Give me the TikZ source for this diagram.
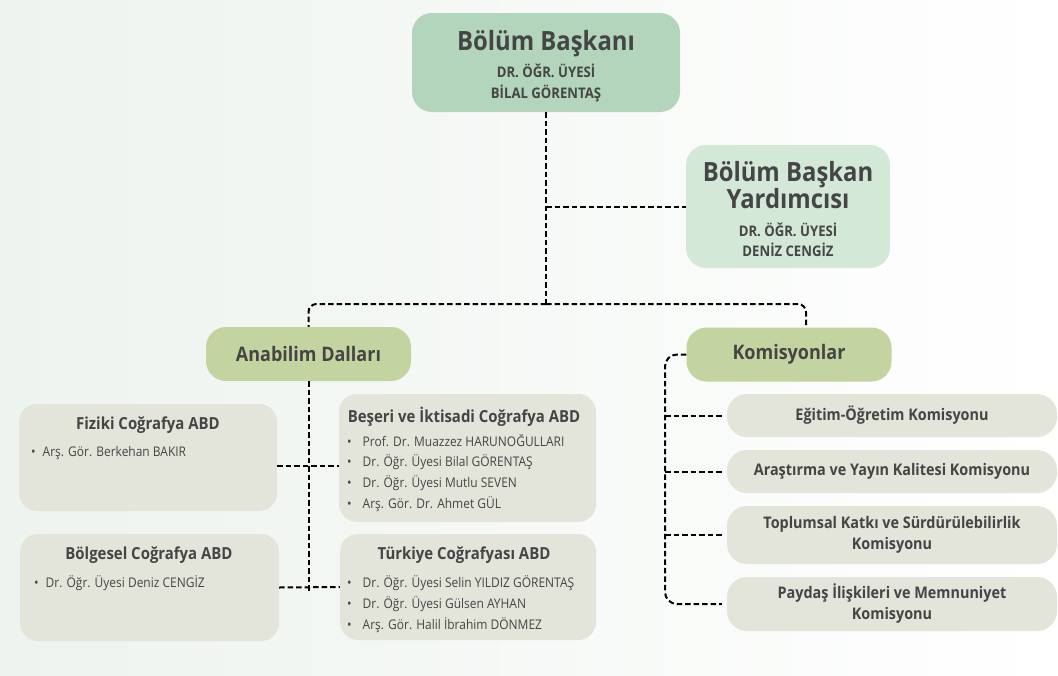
\documentclass[tikz,border=0pt]{standalone}
\usepackage{fontspec}
\setmainfont{Open Sans}[FakeStretch=0.9]
\usetikzlibrary{shapes}

\definecolor{ink}{HTML}{454545}
\definecolor{baskan}{HTML}{B2D5BB}
\definecolor{yardimci}{HTML}{D4E8D7}
\definecolor{grup}{HTML}{C3D4A0}
\definecolor{kutu}{HTML}{E3E4DA}
\definecolor{zemin}{HTML}{EDF3EE}

\begin{document}
\begin{tikzpicture}[x=1pt,y=-1pt]
	\tikzstyle{box} = [rounded corners=18pt, inner sep=0, text=ink]
	\tikzstyle{head} = [box, fill=baskan, rounded corners=20pt, minimum width=268pt, minimum height=99pt]
	\tikzstyle{deputy} = [box, fill=yardimci, rounded corners=20pt, minimum width=204pt, minimum height=123pt]
	\tikzstyle{group} = [box, fill=grup, rounded corners=20pt, minimum width=205pt, minimum height=54pt,
			font=\bfseries\fontsize{20}{24}\selectfont]
	\tikzstyle{unit} = [box, fill=kutu]
	\tikzstyle{komis} = [box, fill=kutu, rounded corners=20pt, minimum width=330pt, align=center,
			font=\bfseries\fontsize{16}{21}\selectfont]
	\tikzstyle{bigtitle} = [inner sep=0, text=ink, align=center, font=\bfseries\fontsize{26.5}{27}\selectfont]
	\tikzstyle{subtitle} = [inner sep=0, text=ink, align=center, font=\bfseries\fontsize{14.6}{20.5}\selectfont]
	\tikzstyle{abdtitle} = [inner sep=0, text=ink, font=\bfseries\fontsize{16.6}{18}\selectfont]
	\tikzstyle{item} = [inner sep=0, anchor=west, text=ink, font=\fontsize{13.3}{14}\selectfont]
	\tikzstyle{link} = [line width=2pt, dash pattern=on 5.5pt off 3pt]

	\shade[left color=zemin, right color=white] (0,0) rectangle (1058,675);

	% yonetim
	\node[head] (boss) at (546,62.5) {};
	\node[bigtitle] (bossT) at (546,44) {Bölüm Başkanı};
	\node[subtitle] (bossN) at (546,83) {DR. ÖĞR. ÜYESİ\\BİLAL GÖRENTAŞ};

	\node[deputy] (dep) at (788,206.5) {};
	\node[bigtitle] (depT) at (788,185.5) {Bölüm Başkan\\Yardımcısı};
	\node[subtitle] (depN) at (788,239.5) {DR. ÖĞR. ÜYESİ\\DENİZ CENGİZ};

	\node[group] (abd) at (308.5,354) {Anabilim Dalları};
	\node[group] (kom) at (789,354.5) {Komisyonlar};

	% anabilim dallari
	\node[unit, minimum width=258pt, minimum height=107pt] (fiz) at (148,457.5) {};
	\node[unit, minimum width=257pt, minimum height=128pt] (bes) at (467.5,458) {};
	\node[unit, minimum width=259pt, minimum height=107pt] (bol) at (149.5,587.5) {};
	\node[unit, minimum width=256pt, minimum height=106pt] (tur) at (468,587) {};

	\node[abdtitle] (fizT) at (148,425) {Fiziki Coğrafya ABD};
	\node[abdtitle] (besT) at (464,417) {Beşeri ve İktisadi Coğrafya ABD};
	\node[abdtitle] (bolT) at (149,555) {Bölgesel Coğrafya ABD};
	\node[abdtitle] (turT) at (464,555) {Türkiye Coğrafyası ABD};

	\node[item] (fiz1) at (31,453) {\textbullet\hspace{7pt}Arş. Gör. Berkehan BAKIR};
	\node[item] (bol1) at (34,583) {\textbullet\hspace{7pt}Dr. Öğr. Üyesi Deniz CENGİZ};
	\foreach \txt [count=\i] in {Prof. Dr. Muazzez HARUNOĞULLARI, Dr. Öğr. Üyesi Bilal GÖRENTAŞ,
			Dr. Öğr. Üyesi Mutlu SEVEN, Arş. Gör. Dr. Ahmet GÜL} {
		\node[item] (bes\i) at (347,420+21*\i) {\textbullet\hspace{11pt}\txt};
	}
	\foreach \txt [count=\i] in {Dr. Öğr. Üyesi Selin YILDIZ GÖRENTAŞ, Dr. Öğr. Üyesi Gülsen AYHAN,
			Arş. Gör. Halil İbrahim DÖNMEZ} {
		\node[item] (tur\i) at (347,562+21*\i) {\textbullet\hspace{11pt}\txt};
	}

	% komisyonlar
	\node[komis, minimum height=43pt] (egt) at (892,415.5) {Eğitim-Öğretim Komisyonu};
	\node[komis, minimum height=43pt] (ars) at (892,471.5) {Araştırma ve Yayın Kalitesi Komisyonu};
	\node[komis, minimum height=58pt] (top) at (892,535) {Toplumsal Katkı ve Sürdürülebilirlik\\Komisyonu};
	\node[komis, minimum height=54pt] (pay) at (892,604) {Paydaş İlişkileri ve Memnuniyet\\Komisyonu};

	% baglantilar
	\coordinate (hub) at (546,304);
	\coordinate (kbus) at (665,500);
	\draw[link] (boss.south) -- (hub);
	\draw[link] (boss.south |- dep.west) -- (dep.west);
	\draw[link, rounded corners=8pt] (hub) -| (abd.north);
	\draw[link, rounded corners=8pt] (hub) -| ([xshift=17pt]kom.north);

	\draw[link] (abd.south) -- ([yshift=-3pt]abd.south |- bol.east);
	\draw[link] ([yshift=-8.5pt]fiz.east) -- ([yshift=-8pt]bes.west);
	\draw[link] (bol.east) -- (tur.west);

	\draw[link, rounded corners=12pt] (kom.west) -| (kbus) |- ([xshift=-5pt]pay.west);
	\foreach \k in {egt, ars, top} {
		\draw[link, shorten >=5pt] (\k.west -| kbus) -- (\k.west);
	}
\end{tikzpicture}
\end{document}
